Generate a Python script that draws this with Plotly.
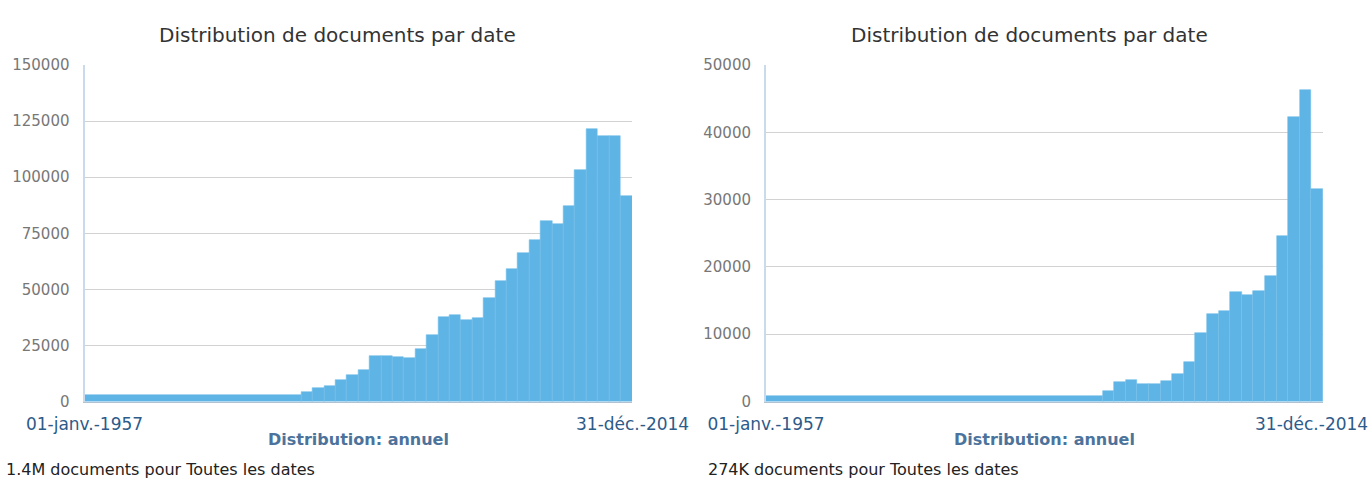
import plotly.graph_objects as go

# ---- data ----
left_years = list(range(1986, 2015))
left_counts = [4400, 6200, 7100, 9600, 11700, 14100, 20100, 20100, 20000, 19400,
               23400, 29600, 37800, 38600, 36300, 37300, 46000, 53900, 58900, 66400,
               71900, 80600, 79300, 87000, 103000, 121300, 118400, 118400, 91500]
left_before = 3000          # documents in the early (1957-1985) bucket

right_years = list(range(1996, 2015))
right_counts = [1490, 2830, 3230, 2590, 2590, 2980, 4080, 5800, 10180, 13000,
                13500, 16300, 15800, 16400, 18700, 24660, 42260, 46240, 31600]
right_before = 850          # documents in the early (1957-1995) bucket

title_text = "Distribution de documents par date"
x_start_text = "01-janv.-1957"
x_end_text = "31-déc.-2014"
x_axis_label = "Distribution: annuel"
left_total = "1.4M documents pour Toutes les dates"
right_total = "274K documents pour Toutes les dates"
left_yticks = [0, 25000, 50000, 75000, 100000, 125000, 150000]
right_yticks = [0, 10000, 20000, 30000, 40000, 50000]

# ---- layout constants ----
W, H = 1372, 480
SLOTS = 48
BAR = "#5db4e5"
FONT = "DejaVu Sans"
XLAB = dict(family=FONT, size=17, color="#2d5b8a")

def px_x(p):
    return p / W

def px_y(p):
    return 1 - p / H

panels = [
    dict(years=left_years, counts=left_counts, before=left_before,
         dom=(84.5, 632), yt=left_yticks, xa="x", ya="y", total=left_total,
         title_c=337.5, total_x=4, end_x=632, end_anchor="center"),
    dict(years=right_years, counts=right_counts, before=right_before,
         dom=(766, 1323), yt=right_yticks, xa="x2", ya="y2", total=right_total,
         title_c=1029, total_x=706, end_x=1370, end_anchor="right"),
]

fig = go.Figure()
annotations = []
layout = {}
ytop, ybot = 65, 401.5

for i, p in enumerate(panels):
    n = len(p["years"])
    first_w = SLOTS - n
    xs = [first_w / 2] + [first_w + k + 0.5 for k in range(n)]
    ws = [first_w] + [1] * n
    ys = [p["before"]] + p["counts"]
    labels = ["1957-%d" % (p["years"][0] - 1)] + [str(y) for y in p["years"]]
    fig.add_trace(go.Bar(
        x=xs, y=ys, width=ws, xaxis=p["xa"], yaxis=p["ya"],
        marker=dict(color=BAR, line=dict(color="#74c0ea", width=0.6)),
        customdata=labels, hovertemplate="%{customdata}: %{y}<extra></extra>",
        showlegend=False,
    ))
    sfx = "" if i == 0 else "2"
    layout["xaxis" + sfx] = dict(
        domain=[px_x(p["dom"][0]), px_x(p["dom"][1])],
        range=[0, SLOTS], anchor=p["ya"], automargin=False,
        showgrid=False, zeroline=False,
        showline=True, linecolor="#b3c2d1", linewidth=1,
        tickmode="array", tickvals=[0], ticktext=[x_start_text],
        tickfont=XLAB, ticks="", ticklabelstandoff=7, ticklabeloverflow="allow",
    )
    layout["yaxis" + sfx] = dict(
        domain=[px_y(ybot), px_y(ytop)],
        range=[0, p["yt"][-1]], anchor=p["xa"], automargin=False,
        tickmode="array", tickvals=p["yt"],
        ticktext=[str(v) for v in p["yt"]],
        tickfont=dict(family=FONT, size=15, color="#777777"),
        showgrid=True, gridcolor="#d2d2d2", gridwidth=1,
        zeroline=False, showline=True, linecolor="#c8daec", linewidth=2,
        ticks="", ticklabelstandoff=10,
    )
    annotations.append(dict(
        text=x_end_text, xref="paper", yref="paper",
        x=px_x(p["end_x"]), y=px_y(424), xanchor=p["end_anchor"], yanchor="middle",
        showarrow=False, font=XLAB,
    ))
    annotations.append(dict(
        text=title_text, xref="paper", yref="paper",
        x=px_x(p["title_c"]), y=px_y(35), xanchor="center", yanchor="middle",
        showarrow=False, font=dict(family=FONT, size=20, color="#333333"),
    ))
    annotations.append(dict(
        text="<b>" + x_axis_label + "</b>", xref=p["xa"] + " domain", yref="paper",
        x=0.5, y=px_y(439), xanchor="center", yanchor="middle",
        showarrow=False, font=dict(family=FONT, size=16, color="#4c739c"),
    ))
    annotations.append(dict(
        text=p["total"], xref="paper", yref="paper",
        x=px_x(p["total_x"]), y=px_y(469), xanchor="left", yanchor="middle",
        showarrow=False, font=dict(family=FONT, size=16, color="#222222"),
    ))

fig.update_layout(
    template="none",
    width=W, height=H, margin=dict(l=0, r=0, t=0, b=0, autoexpand=False),
    paper_bgcolor="white", plot_bgcolor="white",
    bargap=0, annotations=annotations, **layout,
)

fig.write_html("out.html")
